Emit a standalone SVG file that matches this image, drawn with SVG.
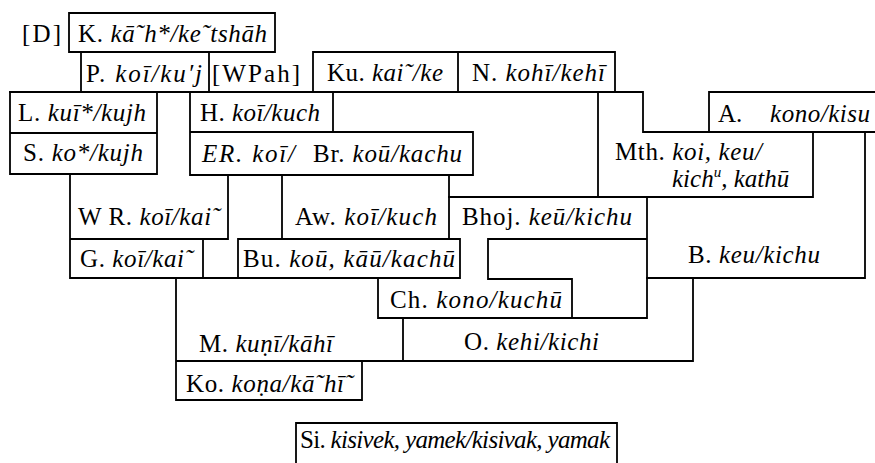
<svg xmlns="http://www.w3.org/2000/svg" width="875" height="463" viewBox="0 0 875 463">
<style>
text{font-family:"Liberation Serif","Times New Roman",serif;font-size:25px;fill:#000}
.i{font-style:italic}
.ln{fill:none;stroke:#000;stroke-width:1.8;stroke-linecap:square}
</style>
<rect width="875" height="463" fill="#fff"/>
<g id="connectors" class="ln">
<path d="M69,13H275V52H69Z"/>
<path d="M313,92V52H615V92M458,52V92"/>
<path d="M81,52V92M209,52V92"/>
<path d="M10,92H643V132H875M709,92H875M709,92V132"/>
<path d="M10,92V174H157V92M10,133H157"/>
<path d="M190,92V175H473V132H190M333,92V132"/>
<path d="M598,92V197M813,132V197H449"/>
<path d="M70,174V278H460V239H238V278M228,175V239H70M203,239V278"/>
<path d="M282,175V239M449,175V239"/>
<path d="M647,197V318H378V278M488,239H647M488,239V279H572V318"/>
<path d="M865,132V278H647M693,278V361H176V400H362V361M403,318V361M176,278V361"/>
<path d="M296,463V423H617V463"/>
</g>
<g id="n-D"><text x="22" y="42" textLength="39">[D]</text></g>
<g id="n-K"><text x="78" y="42" textLength="189">K. <tspan class="i">kā˜h*/ke˜tshāh</tspan></text></g>
<g id="n-P"><text x="86" y="82" textLength="116">P. <tspan class="i">koī/ku′j</tspan></text></g>
<g id="n-WPah"><text x="212" y="82" textLength="88">[WPah]</text></g>
<g id="n-Ku"><text x="327" y="81" textLength="116">Ku. <tspan class="i">kai˜/ke</tspan></text></g>
<g id="n-N"><text x="472" y="81" textLength="133">N. <tspan class="i">kohī/kehī</tspan></text></g>
<g id="n-L"><text x="18" y="121" textLength="128">L. <tspan class="i">kuī*/kujh</tspan></text></g>
<g id="n-H"><text x="200" y="121" textLength="120">H. <tspan class="i">koī/kuch</tspan></text></g>
<g id="n-A"><text x="718" y="122">A.</text><text x="770" y="122" class="i" textLength="100">kono/kisu</text></g>
<g id="n-S"><text x="23" y="161" textLength="120">S. <tspan class="i">ko*/kujh</tspan></text></g>
<g id="n-ER"><text x="202" y="162" class="i" textLength="93">ER. koī/</text></g>
<g id="n-Br"><text x="313" y="162" textLength="149">Br. <tspan class="i">koū/kachu</tspan></text></g>
<g id="n-Mth"><text x="615" y="160" textLength="147">Mth. <tspan class="i">koi, keu/</tspan></text><text x="672" y="187" class="i">kich<tspan font-size="15" dy="-10">u</tspan><tspan dy="10">, kathū</tspan></text></g>
<g id="n-WR"><text x="78" y="225" textLength="142">W R. <tspan class="i">koī/kai˜</tspan></text></g>
<g id="n-Aw"><text x="295" y="225" textLength="142">Aw. <tspan class="i">koī/kuch</tspan></text></g>
<g id="n-Bhoj"><text x="462" y="225" textLength="170">Bhoj. <tspan class="i">keū/kichu</tspan></text></g>
<g id="n-G"><text x="80" y="267" textLength="113">G. <tspan class="i">koī/kai˜</tspan></text></g>
<g id="n-Bu"><text x="243" y="267" textLength="212">Bu. <tspan class="i">koū, kāū/kachū</tspan></text></g>
<g id="n-B"><text x="688" y="263" textLength="132">B. <tspan class="i">keu/kichu</tspan></text></g>
<g id="n-Ch"><text x="390" y="308" textLength="172">Ch. <tspan class="i">kono/kuchū</tspan></text></g>
<g id="n-M"><text x="199" y="352" textLength="134">M. <tspan class="i">kuṇī/kāhī</tspan></text></g>
<g id="n-O"><text x="464" y="350" textLength="135">O. <tspan class="i">kehi/kichi</tspan></text></g>
<g id="n-Ko"><text x="186" y="392" textLength="167">Ko. <tspan class="i">koṇa/kā˜hī˜</tspan></text></g>
<g id="n-Si"><text x="300" y="448" textLength="310">Si. <tspan class="i">kisivek, yamek/kisivak, yamak</tspan></text></g>
</svg>
